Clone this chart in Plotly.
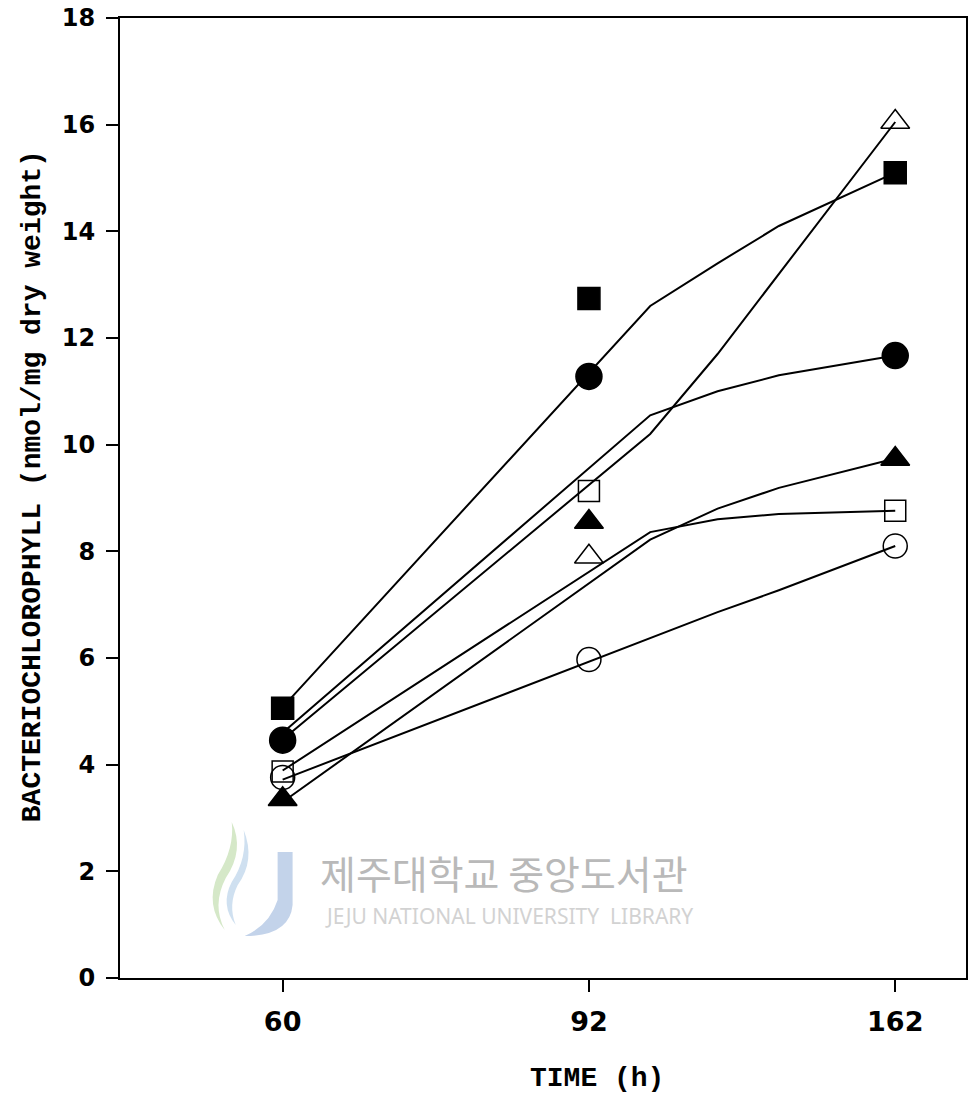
import plotly.graph_objects as go

# ---- data ----
TIME_H = ["60", "92", "162"]          # tick labels (equally spaced time points)
TIME_POS = [0, 1, 2]                  # positions of the sampling times on the axis

# measured points (nmol/mg dry weight)
filled_square = [5.06, 12.74, 15.10]
filled_circle = [4.46, 11.28, 11.67]
open_square = [3.87, 9.13, 8.76]
filled_triangle = [3.35, 8.55, 9.73]
open_triangle = [None, 7.90, 16.05]
open_circle = [3.76, 5.97, 8.10]

# fitted curves as drawn (knot positions along the time axis and curve values)
CURVE_POS = [0, 1.2, 1.42, 1.62, 2.0]
curve_filled_square = [5.08, 12.60, 13.40, 14.10, 15.10]
curve_filled_circle = [4.60, 10.55, 11.00, 11.30, 11.67]
curve_open_triangle = [4.47, 10.20, 11.70, 13.20, 16.05]
curve_open_square = [3.89, 8.36, 8.60, 8.70, 8.76]
curve_filled_triangle = [3.30, 8.22, 8.80, 9.19, 9.74]
curve_open_circle = [3.72, 6.37, 6.86, 7.27, 8.10]

Y_TICKS = [0, 2, 4, 6, 8, 10, 12, 14, 16, 18]

fig = go.Figure()

curves = [curve_filled_square, curve_filled_circle, curve_open_triangle,
          curve_open_square, curve_filled_triangle, curve_open_circle]
for c in curves:
    fig.add_trace(go.Scatter(x=CURVE_POS, y=c, mode="lines",
                             line=dict(color="black", width=2),
                             showlegend=False, hoverinfo="skip"))

series = [
    (filled_square, "square", 22, "black"),
    (filled_circle, "circle", 26, "black"),
    (filled_triangle, "triangle-up", 25, "black"),
    (open_square, "square-open", 21, "black"),
    (open_triangle, "triangle-up-open", 25, "black"),
    (open_circle, "circle-open", 24, "black"),
]
for vals, sym, size, col in series:
    fig.add_trace(go.Scatter(
        x=TIME_POS, y=vals, mode="markers",
        marker=dict(symbol=sym, size=size, color=col,
                    line=dict(color="black", width=1.5)),
        showlegend=False))

L, R, T, B = 120, 3, 18, 117
W, H = 971, 1095
pw, ph = W - L - R, H - T - B


def px(xp):
    return (xp - L) / pw


def py(yp):
    return (H - B - yp) / ph


title_font = dict(family="Liberation Mono, Courier New, monospace", size=28,
                  color="black", weight="bold")

annotations = [
    dict(text="BACTERIOCHLOROPHYLL (nmol/mg dry weight)", x=px(32), y=py(486),
         xref="paper", yref="paper", showarrow=False, textangle=-90,
         xanchor="center", yanchor="middle", font=title_font),
    dict(text="TIME (h)", x=px(598), y=py(1078), xref="paper", yref="paper",
         showarrow=False, xanchor="center", yanchor="middle", font=title_font),
    dict(text="제주대학교 중앙도서관", x=px(505), y=py(872), xref="paper",
         yref="paper", showarrow=False, xanchor="center", yanchor="middle",
         font=dict(family="Noto Sans CJK KR", size=39, color="#b9b9b9")),
    dict(text="JEJU NATIONAL UNIVERSITY  LIBRARY", x=px(510), y=py(916),
         xref="paper", yref="paper", showarrow=False, xanchor="center",
         yanchor="middle",
         font=dict(family="Noto Sans", size=21, color="#d2d2d2")),
]

shapes = [
    # faint library logo: blue "J" and green/blue strokes
    dict(type="path", xref="paper", yref="paper",
         path=(f"M {px(278)},{py(852)} L {px(293)},{py(852)} L {px(293)},{py(905)} "
               f"Q {px(290)},{py(936)} {px(245)},{py(936)} "
               f"Q {px(270)},{py(925)} {px(278)},{py(900)} Z"),
         fillcolor="#c3d3ea", line=dict(width=0), layer="below"),
    dict(type="path", xref="paper", yref="paper",
         path=(f"M {px(232)},{py(822)} Q {px(245)},{py(850)} {px(226)},{py(878)} "
               f"Q {px(212)},{py(905)} {px(225)},{py(930)} "
               f"Q {px(205)},{py(905)} {px(218)},{py(875)} "
               f"Q {px(235)},{py(848)} {px(232)},{py(822)} Z"),
         fillcolor="#d5e8c8", line=dict(width=0), layer="below"),
    dict(type="path", xref="paper", yref="paper",
         path=(f"M {px(244)},{py(830)} Q {px(256)},{py(860)} {px(238)},{py(885)} "
               f"Q {px(228)},{py(905)} {px(236)},{py(925)} "
               f"Q {px(220)},{py(905)} {px(232)},{py(882)} "
               f"Q {px(248)},{py(858)} {px(244)},{py(830)} Z"),
         fillcolor="#cfe0f0", line=dict(width=0), layer="below"),
]

fig.update_layout(
    width=W, height=H,
    margin=dict(l=L, r=R, t=T, b=B, pad=0),
    paper_bgcolor="white", plot_bgcolor="white",
    showlegend=False,
    annotations=annotations,
    shapes=shapes,
    xaxis=dict(range=[-0.531, 2.231], tickvals=TIME_POS, ticktext=TIME_H,
               showgrid=False, zeroline=False, showline=True, linecolor="black",
               linewidth=2, mirror=True, ticks="outside", ticklen=12,
               tickwidth=2, tickcolor="black", ticklabelstandoff=7,
               tickfont=dict(family="DejaVu Sans, Liberation Sans", size=27,
                             color="black", weight="bold")),
    yaxis=dict(range=[0, 18], tickvals=Y_TICKS, showgrid=False, zeroline=False,
               showline=True, linecolor="black", linewidth=2, mirror=True,
               ticks="outside", ticklen=12, tickwidth=2, tickcolor="black",
               ticklabelstandoff=6,
               tickfont=dict(family="DejaVu Sans, Liberation Sans", size=24,
                             color="black", weight="bold")),
)

fig.write_html("out.html")
